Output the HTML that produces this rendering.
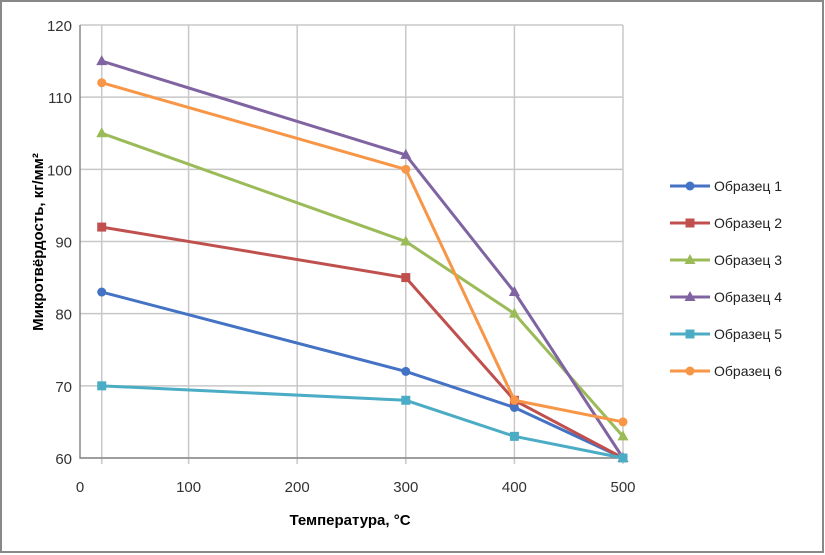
<!DOCTYPE html>
<html><head><meta charset="utf-8"><style>
body{margin:0;background:#fff;}
svg{display:block;font-family:"Liberation Sans",sans-serif;}
</style></head><body>
<svg id="c" width="825" height="555">
<rect x="1" y="1" width="822" height="551" fill="#fff" stroke="#888" stroke-width="2"/>
<g id="grid"></g><g id="axes"></g><g id="series"></g><g id="legend"></g>
<text x="350" y="525" text-anchor="middle" font-size="15" font-weight="bold">Температура, °C</text>
<text transform="translate(43,242) rotate(-90)" text-anchor="middle" font-size="15" font-weight="bold">Микротвёрдость, кг/мм²</text>
</svg>
<script>
const xValues=[20,300,400,500];
const seriesNames=["Образец 1","Образец 2","Образец 3","Образец 4","Образец 5","Образец 6"];
const s1=[83,72,67,60];
const s2=[92,85,68,60];
const s3=[105,90,80,63];
const s4=[115,102,83,60];
const s5=[70,68,63,60];
const s6=[112,100,68,65];
const xTicks=[0,100,200,300,400,500];
const yTicks=[60,70,80,90,100,110,120];
const allSeries=[s1,s2,s3,s4,s5,s6];
const colors=["#4472c4","#c0504d","#9bbb59","#8064a2","#4bacc6","#f79646"];
const markers=["circle","square","triangle","triangle","square","circle"];
const NS="http://www.w3.org/2000/svg";
const X=v=>80+(v/500)*543, Y=v=>458-(v-60)/60*433;
function mk(t,a,p){const e=document.createElementNS(NS,t);for(const k in a)e.setAttribute(k,a[k]);p.appendChild(e);return e;}
const grid=document.getElementById('grid'),axes=document.getElementById('axes'),ser=document.getElementById('series'),leg=document.getElementById('legend');
yTicks.forEach(v=>{const l=mk('line',{x1:80,x2:623,y1:Y(v),y2:Y(v),stroke:'#c8c8c8','stroke-width':1.5},grid);

const t=mk('text',{x:72,y:Y(v)+6,'text-anchor':'end','font-size':15,fill:'#333'},axes);t.textContent=v;
});
xTicks.concat([20]).forEach(v=>{if(v===0)return;const l=mk('line',{x1:X(v),x2:X(v),y1:25,y2:464,stroke:'#c8c8c8','stroke-width':1.5},grid);
});
xTicks.forEach(v=>{const t=mk('text',{x:X(v),y:492,'text-anchor':'middle','font-size':15,fill:'#333'},axes);t.textContent=v;
});
const ax=mk('path',{d:'M80,25V458H623',fill:'none',stroke:'#888','stroke-width':1.5},axes);

function marker(type,x,y,c,p){let e;
if(type==='circle')e=mk('circle',{cx:x,cy:y,r:4.5,fill:c},p);
else if(type==='square')e=mk('rect',{x:x-4.5,y:y-4.5,width:9,height:9,fill:c},p);
else e=mk('polygon',{points:`${x},${y-6} ${x+5.5},${y+4} ${x-5.5},${y+4}`,fill:c},p);
return e;}
allSeries.forEach((s,i)=>{const g=mk('g',{},ser);
const pl=mk('polyline',{points:s.map((v,j)=>X(xValues[j])+','+Y(v)).join(' '),fill:'none',stroke:colors[i],'stroke-width':3},g);

s.forEach((v,j)=>{const m=marker(markers[i],X(xValues[j]),Y(v),colors[i],g);
});
const ly=186+i*37;const lg=mk('g',{},leg);
mk('line',{x1:670,x2:710,y1:ly,y2:ly,stroke:colors[i],'stroke-width':3},lg);
marker(markers[i],690,ly,colors[i],lg);
const t=mk('text',{x:714,y:ly+5,'font-size':14,fill:'#222'},lg);t.textContent=seriesNames[i];});
</script>
</body></html>
